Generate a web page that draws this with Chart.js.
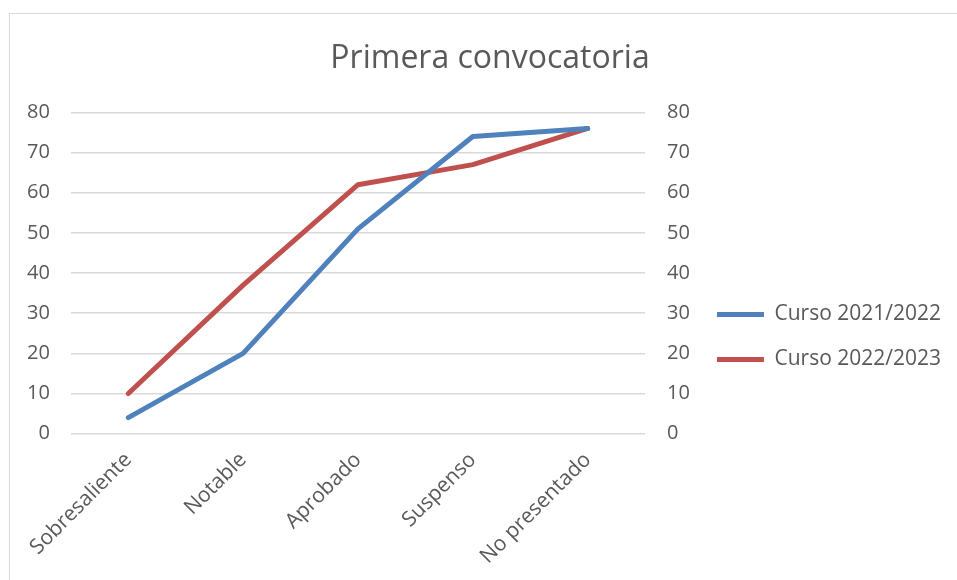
<!DOCTYPE html>
<html>
<head>
<meta charset="utf-8">
<script src="https://cdn.jsdelivr.net/npm/chart.js@4"></script>
<style>
  html, body { margin: 0; padding: 0; overflow: hidden; background: #fff; }
  #frame {
    position: absolute; left: 9px; top: 13px;
    width: 960px; height: 580px;
    border: 1px solid #d9d9d9;
  }
</style>
</head>
<body>
<div id="frame"><canvas id="convocatoria"></canvas></div>
<script>
const categories = ['Sobresaliente', 'Notable', 'Aprobado', 'Suspenso', 'No presentado']
const curso_2021 = [4, 20, 51, 74, 76]
const curso_2022 = [10, 37, 62, 67, 76]
const y_min = 0
const y_max = 80
const y_step = 10

const text_color = '#595959'
const grid_color = '#d9d9d9'
const font_family = "'Open Sans', sans-serif"

// the rotated first label makes Chart.js pad the left side, so the
// title box is moved back to be centred on the whole frame
const centreTitle = {
  id: 'centreTitle',
  afterLayout: function(chart) {
    if (chart.titleBlock) {
      chart.titleBlock.left += 23
    }
  }
}

const convocatoriaCanvas = document.getElementById('convocatoria');
new Chart(
  convocatoriaCanvas,
  {
    type: 'line',
    data: {
      labels: categories,
      datasets: [
        {
          label: 'Curso 2021/2022',
          data: curso_2021,
          borderColor: '#4f81bd',
          backgroundColor: '#4f81bd',
          borderWidth: 5,
          borderCapStyle: 'round',
          borderJoinStyle: 'round',
          pointRadius: 0,
          fill: false,
        },
        {
          label: 'Curso 2022/2023',
          data: curso_2022,
          borderColor: '#c0504d',
          backgroundColor: '#c0504d',
          borderWidth: 5,
          borderCapStyle: 'round',
          borderJoinStyle: 'round',
          pointRadius: 0,
          fill: false,
        }
      ]
    },
    plugins: [centreTitle],
    options: {
      responsive: true,
      maintainAspectRatio: false,
      animation: false,
      layout: {
        padding: { left: -4, right: 19, top: 26, bottom: 19 }
      },
      plugins: {
        title: {
          display: true,
          text: 'Primera convocatoria',
          color: text_color,
          font: { family: font_family, size: 32, weight: 'normal' },
          padding: { top: 0, bottom: 34 }
        },
        legend: {
          position: 'right',
          maxWidth: 300,
          // empty title only pushes the entries down like in the original
          title: {
            display: true,
            text: ' ',
            font: { size: 10 },
            padding: { top: 47, bottom: 0 }
          },
          labels: {
            color: text_color,
            font: { family: font_family, size: 21 },
            usePointStyle: true,
            pointStyle: 'line',
            pointStyleWidth: 47,
            padding: 24,
          }
        },
        tooltip: { enabled: false }
      },
      scales: {
        x: {
          offset: true,
          grid: { display: false },
          border: { display: false },
          ticks: {
            color: text_color,
            font: { family: font_family, size: 21 },
            minRotation: 45,
            maxRotation: 45,
            padding: 6,
          }
        },
        y: {
          position: 'left',
          min: y_min,
          max: y_max,
          grid: { color: grid_color, lineWidth: 1.5, drawTicks: false },
          border: { display: false },
          ticks: {
            stepSize: y_step,
            color: text_color,
            font: { family: font_family, size: 20 },
            padding: 21,
          }
        },
        y2: {
          position: 'right',
          min: y_min,
          max: y_max,
          grid: { display: false, drawTicks: false },
          border: { display: false },
          ticks: {
            stepSize: y_step,
            color: text_color,
            font: { family: font_family, size: 20 },
            padding: 22,
          },
          afterFit: function(scale) {
            scale.width -= 19
          }
        }
      }
    },
  }
);
</script>
</body>
</html>
